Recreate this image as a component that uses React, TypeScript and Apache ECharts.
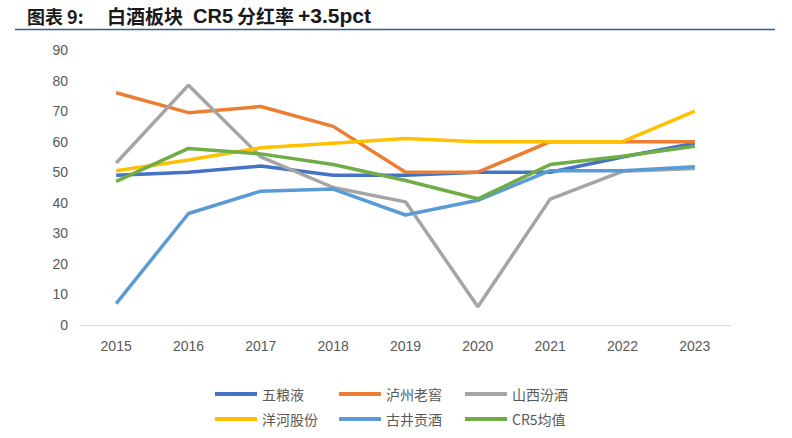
import React, { useEffect, useRef } from "react";
import * as echarts from "echarts";

const years = ["2015", "2016", "2017", "2018", "2019", "2020", "2021", "2022", "2023"];
const wuliangye = [49, 50, 52, 49, 49, 50, 50, 55, 59.5];
const luzhou = [76, 69.5, 71.5, 65, 50, 50, 60, 60, 60];
const fenjiu = [53, 78.5, 55, 45, 40.3, 6, 41.2, 50.3, 51.2];
const yanghe = [50.5, 54, 58, 59.5, 61, 60, 60, 60, 70];
const gujing = [7, 36.5, 43.8, 44.5, 36, 40.8, 50.5, 50.5, 51.8];
const cr5 = [47, 57.8, 56, 52.5, 47.3, 41.3, 52.5, 55.2, 58.5];

const seriesNames = ["五粮液", "泸州老窖", "山西汾酒", "洋河股份", "古井贡酒", "CR5均值"];
const seriesData = [wuliangye, luzhou, fenjiu, yanghe, gujing, cr5];
const colors = ["#4472C4", "#ED7D31", "#A5A5A5", "#FFC000", "#5B9BD5", "#70AD47"];

const titleParts = ["图表 9:", "白酒板块", "CR5", "分红率", "+3.5pct"];

export default function App() {
  const ref = useRef<HTMLDivElement>(null);
  useEffect(() => {
    if (!ref.current) return;
    const chart = echarts.init(ref.current, null, { renderer: "svg" });
    const legendPos = [
      { left: 210, top: 382 },
      { left: 334, top: 382 },
      { left: 460, top: 382 },
      { left: 210, top: 407 },
      { left: 334, top: 407 },
      { left: 460, top: 407 },
    ];
    const cjkFont = "'Noto Sans CJK SC', sans-serif";
    const latinFont = "'Liberation Sans', Arial, sans-serif";
    const titleStyles = [
      { x: 27, font: `bold 18px ${cjkFont}` },
      { x: 107, font: `bold 19px ${cjkFont}` },
      { x: 193, font: `bold 20px ${latinFont}` },
      { x: 237, font: `bold 19px ${cjkFont}` },
      { x: 298, font: `bold 21px ${latinFont}` },
    ];
    chart.setOption({
      animation: false,
      backgroundColor: "#fff",
      graphic: [
        ...titleParts.map((t, i) => ({
          type: "text",
          x: titleStyles[i].x,
          y: 15.5,
          style: {
            text: t,
            font: titleStyles[i].font,
            fill: "#1a1a1a",
            textVerticalAlign: "middle",
            verticalAlign: "middle",
          },
        })),
        {
          type: "line",
          shape: { x1: 15, y1: 29.5, x2: 775, y2: 29.5 },
          style: { stroke: "#2F5C9A", lineWidth: 1.5 },
        },
      ],
      legend: seriesNames.map((n, i) => ({
        data: [n],
        left: legendPos[i].left,
        top: legendPos[i].top,
        icon: "rect",
        itemWidth: 42,
        itemHeight: 4,
        itemGap: 0,
        textStyle: {
          color: "#595959",
          fontSize: 14,
          fontFamily: cjkFont,
        },
      })),
      grid: { left: 80, right: 61, top: 50, bottom: 113 },
      xAxis: {
        type: "category",
        data: years,
        boundaryGap: true,
        axisLine: { lineStyle: { color: "#D9D9D9", width: 1 } },
        axisTick: { show: false },
        axisLabel: {
          color: "#595959",
          fontSize: 14,
          fontFamily: latinFont,
          margin: 14,
        },
      },
      yAxis: {
        type: "value",
        min: 0,
        max: 90,
        interval: 10,
        axisLine: { show: false },
        axisTick: { show: false },
        splitLine: { show: false },
        axisLabel: {
          color: "#595959",
          fontSize: 14,
          fontFamily: latinFont,
          margin: 12,
        },
      },
      series: seriesNames.map((n, i) => ({
        name: n,
        type: "line",
        data: seriesData[i],
        showSymbol: false,
        symbol: "none",
        lineStyle: { color: colors[i], width: 3.5 },
        itemStyle: { color: colors[i] },
      })),
    });
    return () => chart.dispose();
  }, []);
  return (
    <div
      ref={ref}
      style={{ position: "fixed", left: 0, top: 0, width: 792, height: 438 }}
    />
  );
}
